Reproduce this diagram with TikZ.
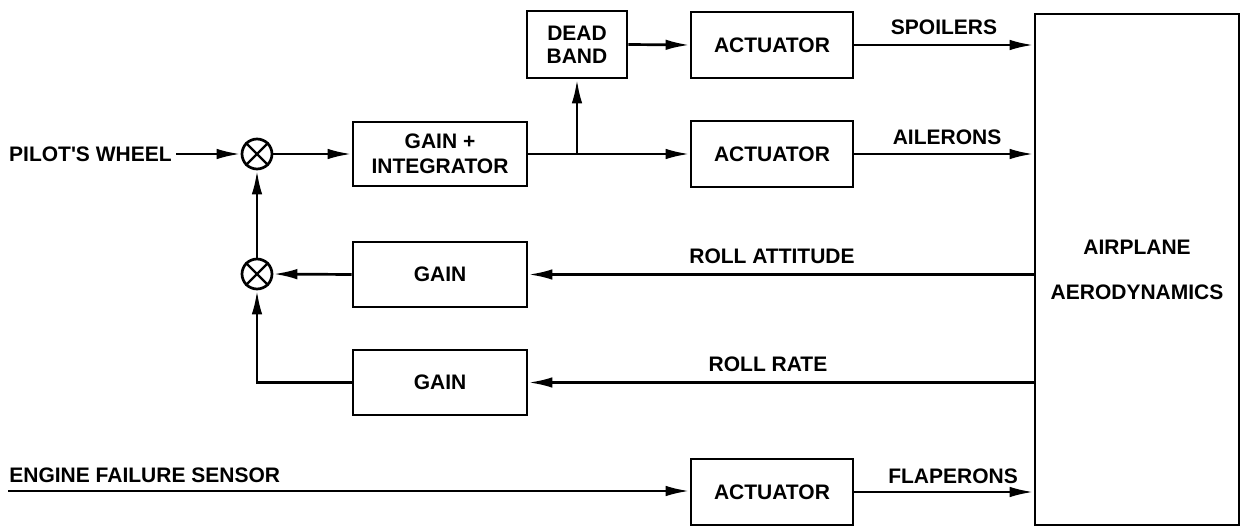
\documentclass[tikz,border=0pt]{standalone}
\usepackage{fontspec}
\setmainfont{Liberation Sans}
\usetikzlibrary{arrows.meta}
\begin{document}
\begin{tikzpicture}[x=1pt,y=-1pt,
  line width=2.7pt,
  every node/.style={font=\fontsize{21}{23}\selectfont\bfseries},
  blk/.style={draw, rectangle, inner sep=0pt, align=center},
  sumj/.style={draw, circle, minimum size=30pt, inner sep=0pt},
  lbl/.style={inner sep=0pt},
  flow/.style={-{Latex[length=24pt,width=10.5pt]}}]
\useasboundingbox (0,0) rectangle (1243,527);

% summing junctions
\node[sumj] (s1) at (257,154) {};
\node[sumj] (s2) at (257,274) {};
\foreach \s in {s1,s2}{
  \draw[line width=2.4pt] (\s.north west) -- (\s.south east)
                          (\s.north east) -- (\s.south west);
}

% blocks
\node[blk, minimum width=174pt, minimum height=64pt,
      font=\fontsize{21}{25}\selectfont\bfseries] (gi) at (440,154) {GAIN +\\INTEGRATOR};
\node[blk, minimum width=100pt, minimum height=67pt] (db) at (577,44.5) {DEAD\\BAND};
\node[blk, minimum width=162pt, minimum height=66pt] (a1) at (772,45) {ACTUATOR};
\node[blk, minimum width=162pt, minimum height=66pt] (a2) at (772,154) {ACTUATOR};
\node[blk, minimum width=162pt, minimum height=66pt] (a3) at (772,492) {ACTUATOR};
\node[blk, minimum width=174pt, minimum height=65pt] (g1) at (440,274.5) {GAIN};
\node[blk, minimum width=174pt, minimum height=65pt] (g2) at (440,382.5) {GAIN};
\node[blk, minimum width=204pt, minimum height=511pt,
      font=\fontsize{21}{45}\selectfont\bfseries] (ap) at (1137,269.5) {AIRPLANE\\AERODYNAMICS};

% inputs and signal labels
\node[anchor=east, inner sep=3pt] (pw) at (176,154) {PILOT\textquotesingle S WHEEL};
\node[anchor=west, lbl] (efs) at (8,475) {ENGINE FAILURE SENSOR};
\coordinate (efs0) at (8,491);
\node[lbl] (tsp) at (944,27.5) {SPOILERS};
\node[lbl] (tai) at (947,137.5) {AILERONS};
\node[lbl] (tra) at (772,256.5) {ROLL ATTITUDE};
\node[lbl] (trr) at (768,364.5) {ROLL RATE};
\node[lbl] (tfl) at (953,476) {FLAPERONS};

% forward path
\draw[flow] (pw.east) -- (s1.west);
\draw[flow] (s1.east) -- (gi.west);
\draw[flow] (gi.east) -- (a2.west);
\coordinate (br) at (db.south |- gi.east);
\draw[flow] (br) -- (db.south);
\draw[flow] (db.east) -- (a1.west);
\draw[flow] (a1.east) -- (a1.east -| ap.west);
\draw[flow] (a2.east) -- (a2.east -| ap.west);
\draw[flow] (efs0) -- (efs0 -| a3.west);
\draw[flow] (a3.east) -- (a3.east -| ap.west);

% feedback paths
\draw[flow] (g1.east -| ap.west) -- (g1.east);
\draw[flow] (g2.east -| ap.west) -- (g2.east);
\draw[flow] (g1.west) -- (s2.east);
\draw[flow] (g2.west) -| (s2.south);
\draw[flow] (s2.north) -- (s1.south);
\end{tikzpicture}
\end{document}
